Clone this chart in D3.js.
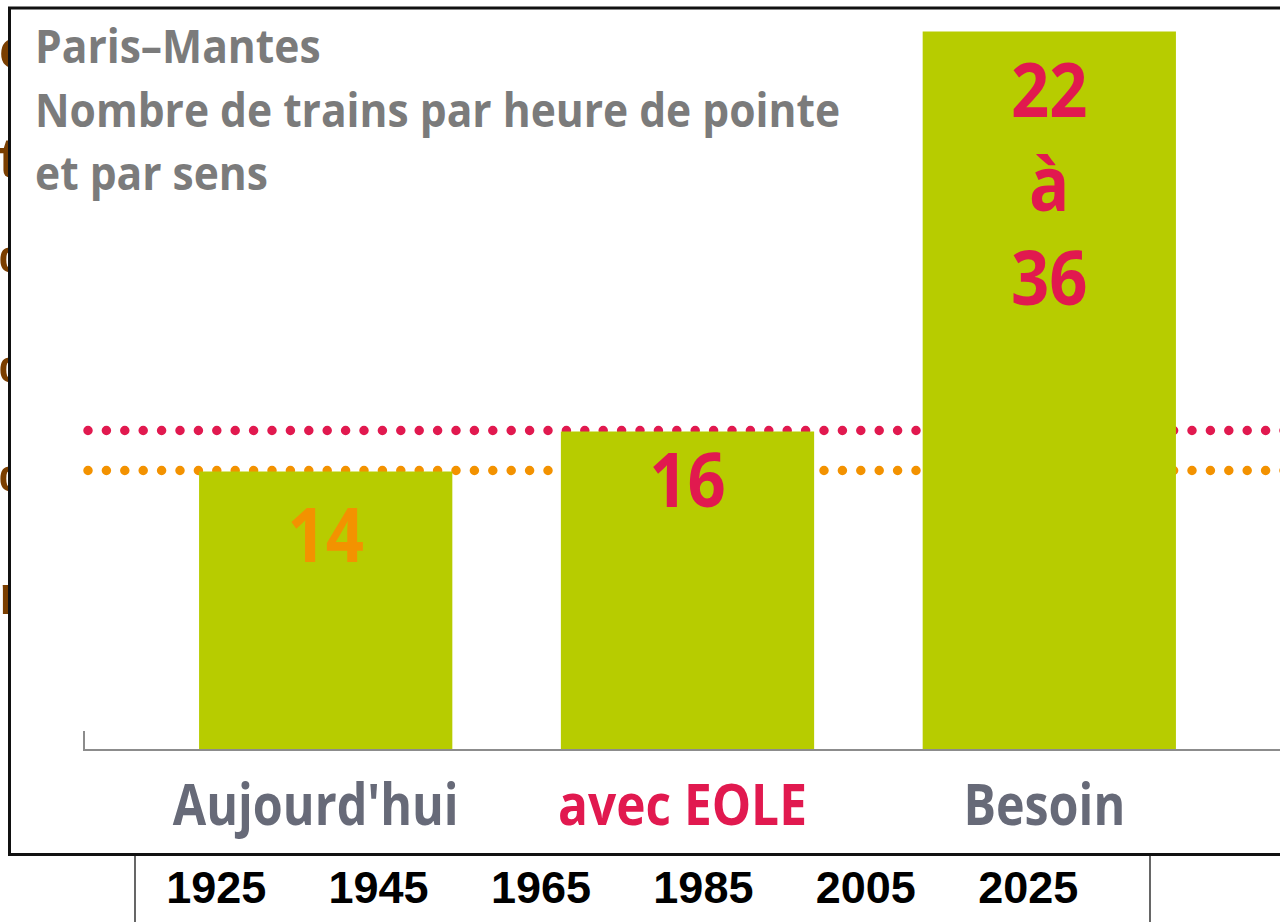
<!DOCTYPE html>
<html><head><meta charset="utf-8">
<script src="https://cdn.jsdelivr.net/npm/d3@7"></script>
<style>html,body{margin:0;padding:0;background:#fff;overflow:hidden}</style>
</head><body>
<svg id="c" width="1280" height="922"></svg>
<script>
// ---- data ----
const titleLines = ["Paris\u2013Mantes", "Nombre de trains par heure de pointe", "et par sens"];
const categories = ["Aujourd'hui", "avec EOLE", "Besoin"];
const values = [14, 16, 36];
const valueLabels = [["14"], ["16"], ["22", "\u00e0", "36"]];
const referenceLines = [16, 14];
const years = [1925, 1945, 1965, 1985, 2005, 2025];
const hiddenLabels = ["c", "t", "%", "%", "%", "r"];

// ---- styles ----
const GREEN = "#b7cc00", RED = "#e1194f", ORANGE = "#f39200", GREY = "#7b7b7b", SLATE = "#676a78", BROWN = "#7a3e00";
const catColors = [SLATE, RED, SLATE];
const valColors = [ORANGE, RED, RED];
const refColors = [RED, ORANGE];
const FONT = "'Open Sans', 'Noto Sans', sans-serif";

const svg = d3.select("#c");

// hidden labels of an underlying axis (mostly covered by the box)
const yHidden = d3.scalePoint().domain(d3.range(hiddenLabels.length)).range([68, 614]);
svg.append("g").selectAll("text").data(hiddenLabels).join("text")
  .attr("x", -1).attr("y", (d, i) => yHidden(i))
  .attr("font-family", "'Liberation Sans', Arial, sans-serif").attr("font-weight", 700)
  .attr("font-size", 56).attr("fill", BROWN).text(d => d);

// framed box
svg.append("rect").attr("x", 9.5).attr("y", 8).attr("width", 1300).attr("height", 846.5)
  .attr("fill", "#fff").attr("stroke", "#111").attr("stroke-width", 3);

// scales
const x = d3.scaleBand().domain(categories).range([144.8, 1230.2]).paddingInner(0.3).paddingOuter(0.15);
const y = d3.scaleLinear().domain([0, 36]).range([750, 30]);

// title
const tg = svg.append("g");
titleLines.forEach((t, i) => {
  tg.append("text").attr("transform", `translate(35,${63 + i * 63.5}) scale(0.915,1)`)
    .attr("font-family", FONT).attr("font-weight", 700).attr("font-size", 46.5)
    .attr("fill", GREY).text(t);
});

// reference dotted lines (behind bars)
svg.append("g").selectAll("line").data(referenceLines).join("line")
  .attr("x1", 88).attr("x2", 1290)
  .attr("y1", d => y(d) + 0.5).attr("y2", d => y(d) + 0.5)
  .attr("stroke", (d, i) => refColors[i]).attr("stroke-width", 9.5)
  .attr("stroke-linecap", "round").attr("stroke-dasharray", "0,18.4");

// bars
svg.append("g").selectAll("rect").data(values).join("rect")
  .attr("x", (d, i) => x(categories[i])).attr("width", x.bandwidth())
  .attr("y", d => y(d) + 1.5).attr("height", d => y(0) - y(d) - 1.5).attr("fill", GREEN);

// axis baseline
svg.append("path").attr("d", `M84,731V${y(0)}H1290`).attr("fill", "none")
  .attr("stroke", "#8c8c8c").attr("stroke-width", 2);

// value labels
valueLabels.forEach((lines, i) => {
  const cx = x(categories[i]) + x.bandwidth() / 2;
  const base = lines.length === 1 ? y(values[i]) + (i === 0 ? 92 : 77) : y(values[i]) + 87;
  lines.forEach((t, j) => {
    svg.append("text").attr("transform", `translate(${cx},${base + j * 94}) scale(0.88,1)`)
      .attr("text-anchor", "middle").attr("font-family", FONT).attr("font-weight", 700)
      .attr("font-size", 76).attr("fill", valColors[i]).text(t);
  });
});

// category labels
svg.append("g").selectAll("text").data(categories).join("text")
  .attr("transform", (d, i) => `translate(${x(d) + x.bandwidth() / 2 - (i === 0 ? 10 : 5)},825) scale(${i === 1 ? 0.87 : 0.85},1)`)
  .attr("text-anchor", "middle").attr("font-family", FONT).attr("font-weight", 700)
  .attr("font-size", 57).attr("fill", (d, i) => catColors[i]).text(d => d);

// year axis outside the box
const xy = d3.scaleLinear().domain([1915, 2040]).range([135, 1150]);
svg.append("g").selectAll("line").data([1915, 2040]).join("line")
  .attr("x1", d => xy(d)).attr("x2", d => xy(d)).attr("y1", 856).attr("y2", 922)
  .attr("stroke", "#000").attr("stroke-width", 1.2);
svg.append("g").selectAll("text").data(years).join("text")
  .attr("x", d => xy(d)).attr("y", 903).attr("text-anchor", "middle")
  .attr("font-family", "'Liberation Sans', Arial, sans-serif").attr("font-weight", 700)
  .attr("font-size", 45).attr("fill", "#000").text(d => d);
</script>
</body></html>
